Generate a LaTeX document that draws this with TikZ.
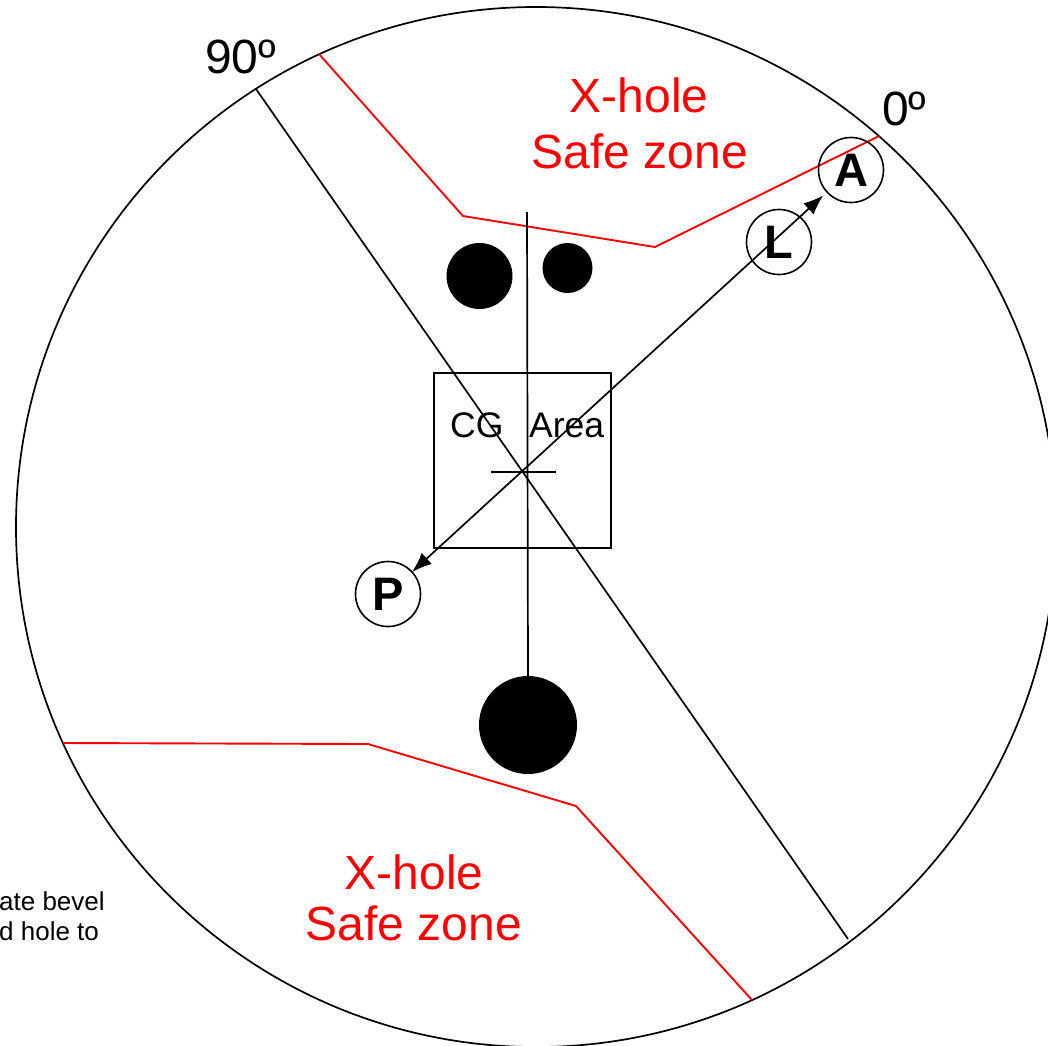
\documentclass[tikz,border=0pt]{standalone}
\usepackage{fontspec}
\setmainfont{Liberation Sans}
\usetikzlibrary{arrows.meta}
\begin{document}
\begin{tikzpicture}[x=1pt,y=-1pt,
  blackline/.style={draw=black, line width=1.7pt},
  redline/.style={draw=red, line width=1.9pt, line join=miter},
  lettercircle/.style={circle, draw, fill=none, line width=1.6pt, minimum size=65pt, inner sep=0pt, outer sep=0pt, font=\fontsize{47}{50}\selectfont\bfseries},
  blackdot/.style={circle, fill=black, inner sep=0pt, outer sep=0pt},
  redtext/.style={text=red, font=\fontsize{48}{56}\selectfont, inner sep=0pt, anchor=base},
  angletext/.style={font=\fontsize{48}{56}\selectfont, inner sep=0pt, anchor=base west},
  cgtext/.style={font=\fontsize{35.5}{40}\selectfont, inner sep=0pt, anchor=base west},
  notetext/.style={font=\fontsize{26}{30}\selectfont, inner sep=0pt, anchor=base west},
  tip/.style={{Latex[length=20pt,width=15pt]}-{Latex[length=20pt,width=15pt]}},
]
\useasboundingbox (0,0) rectangle (1048,1045);
\begin{scope}
\clip (0,0) rectangle (1048,1045);
% outer circle
\draw[blackline] (536,527) circle [radius=520];

% red safe zone boundaries
\draw[redline] (319,54) -- (463,216) -- (655,247) -- (879,136);
\draw[redline] (63,743) -- (368,744) -- (576,806) -- (752,1000);

% diagonal 90 deg line
\draw[blackline] (256,89) -- (848,939);

% CG area box and cross
\node[draw, line width=1.7pt, minimum width=177pt, minimum height=175pt, inner sep=0pt] (cgbox) at (522.5,460.5) {};
\draw[blackline] (491,472) -- (556,472);

% dots
\node[blackdot, minimum size=66pt] (dotL) at (479.5,276) {};
\node[blackdot, minimum size=50pt] (dotR) at (567.5,268) {};
\node[blackdot, minimum size=98pt] (dotB) at (528,725) {};
\coordinate (vtop) at (527,212);
\draw[blackline] (vtop) -- (dotB.north);

% labels
\node[cgtext] (cg) at (450,437) {CG};
\node[cgtext] (area) at (529,437) {Area};

\node[redtext] (t1) at (639,112) {X-hole};
\node[redtext] (t2) at (640,168) {Safe zone};
\node[redtext] (b1) at (414,889) {X-hole};
\node[redtext] (b2) at (414,940) {Safe zone};

\node[angletext] (a90) at (205,73) {90º};
\node[angletext] (a0) at (882,125) {0º};

\node[notetext] (n1) at (-1,910) {ate bevel};
\node[notetext] (n2) at (-1,940) {d hole to};

% letter circles and arrow
\node[lettercircle] (P) at (388,594) {P};
\node[lettercircle] (A) at (851,170) {A};
\draw[blackline, tip, shorten >=5pt] (P) -- (A);
\node[lettercircle] (L) at (779,242) {L};
\end{scope}
\end{tikzpicture}
\end{document}
